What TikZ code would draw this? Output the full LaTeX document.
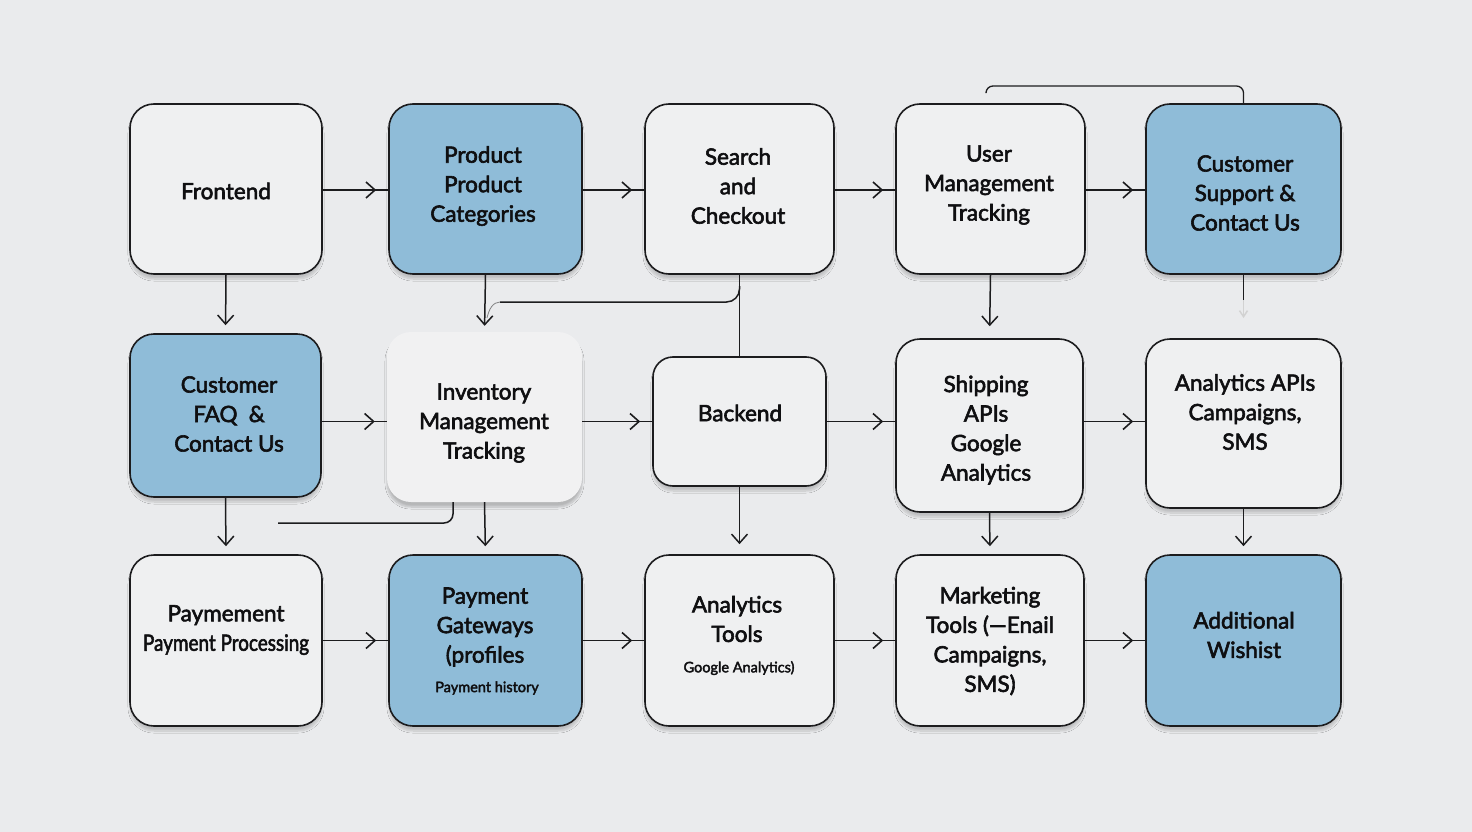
\documentclass[tikz,border=0pt]{standalone}
\usepackage{fontspec}
\setmainfont{Lato}[FakeBold=2.6]
\usetikzlibrary{arrows.meta,decorations.markings,shadows.blur}
\definecolor{bgc}{RGB}{234,235,237}
\definecolor{boxw}{RGB}{239,240,241}
\definecolor{boxi}{RGB}{241,241,242}
\definecolor{boxb}{RGB}{143,188,216}
\definecolor{linec}{RGB}{28,28,30}
\definecolor{txtc}{RGB}{15,15,17}
\begin{document}
\begin{tikzpicture}[x=1pt,y=-1pt,
  box/.style={draw=linec, line width=1.6pt, rounded corners=24pt, fill=boxw, inner sep=0pt,
    blur shadow={shadow xshift=0pt, shadow yshift=-5pt, shadow blur steps=10, shadow opacity=18}},
  bluebox/.style={box, fill=boxb},
  softbox/.style={draw=none, rounded corners=24pt, fill=boxi, inner sep=0pt,
    blur shadow={shadow xshift=0pt, shadow yshift=-5pt, shadow blur steps=10, shadow opacity=22}},
  txt/.style={align=center, font=\fontsize{22.5}{29.5}\selectfont, text=txtc, inner sep=0pt},
  smalltxt/.style={align=center, font=\fontsize{14.5}{17}\selectfont, text=txtc, inner sep=0pt},
  conn/.style={draw=linec, line width=1.5pt},
  harrow/.style={conn, postaction={decorate},
    decoration={markings, mark=at position -12pt with {\arrow[line width=1.6pt]{Straight Barb[length=9pt,width=16pt]}}}},
  varrow/.style={conn, -{Straight Barb[length=9pt,width=16pt]}, shorten >=#1},
  varrow/.default=8pt,
]
\useasboundingbox (0,0) rectangle (1472,832);
\fill[bgc] (0,0) rectangle (1472,832);

% ---- boxes row 1
\node[box, minimum width=192pt, minimum height=170pt] (fe) at (226,189) {};
\node[bluebox, minimum width=193pt, minimum height=170pt] (prod) at (485.5,189) {};
\node[box, minimum width=189pt, minimum height=170pt] (search) at (739.5,189) {};
\node[box, minimum width=189pt, minimum height=170pt] (user) at (990.5,189) {};
\node[bluebox, minimum width=195pt, minimum height=170pt] (cs) at (1243.5,189) {};
% ---- row 2
\node[bluebox, minimum width=191pt, minimum height=163pt] (faq) at (225.5,415.5) {};
\node[softbox, minimum width=195pt, minimum height=170pt] (inv) at (484.5,417) {};
\node[box, minimum width=173pt, minimum height=129pt, rounded corners=20pt] (back) at (739.5,421.5) {};
\node[box, minimum width=187pt, minimum height=173pt] (ship) at (989.5,425.5) {};
\node[box, minimum width=195pt, minimum height=169pt] (aapi) at (1243.5,423.5) {};
% ---- row 3
\node[box, minimum width=192pt, minimum height=171pt] (pay) at (226,640.5) {};
\node[bluebox, minimum width=193pt, minimum height=171pt] (gw) at (485.5,640.5) {};
\node[box, minimum width=189pt, minimum height=171pt] (tools) at (739.5,640.5) {};
\node[box, minimum width=188pt, minimum height=171pt] (mkt) at (990,640.5) {};
\node[bluebox, minimum width=195pt, minimum height=171pt] (wish) at (1243.5,640.5) {};

% ---- texts
\node[txt] (fe-t) at (226,191) {Frontend};
\node[txt] (prod-t) at (483,186) {Product\\Product\\Categories};
\node[txt] (search-t) at (738,186) {Search\\and\\Checkout};
\node[txt] (user-t) at (989,185) {User\\Management\\Tracking};
\node[txt] (cs-t) at (1245,193) {Customer\\Support \&\\Contact Us};
\node[txt] (faq-t) at (229,414) {Customer\\FAQ\enspace\&\\Contact Us};
\node[txt] (inv-t) at (484,423) {Inventory\\Management\\Tracking};
\node[txt] (back-t) at (740,413) {Backend};
\node[txt] (ship-t) at (986,430) {Shipping\\APIs\\Google\\Analytics};
\node[txt] (aapi-t) at (1245,412) {Analytics APIs\\Campaigns,\\SMS};
\node[txt] (pay-t) at (226,630) {Paymement\\\scalebox{0.84}[1]{Payment Processing}};
\node[txt] (gw-t) at (485,627) {Payment\\Gateways\\(profiles};
\node[smalltxt] (gw-s) at (487,688) {Payment history};
\node[txt] (tools-t) at (737,619) {Analytics\\Tools};
\node[smalltxt] (tools-s) at (739,668) {Google Analytics)};
\node[txt] (mkt-t) at (990,641) {Marketing\\Tools (---Enail\\Campaigns,\\SMS)};
\node[txt] (wish-t) at (1244,635) {Additional\\Wishist};

% ---- horizontal connectors
\draw[harrow] (fe.east |- 0,190) -- (prod.west |- 0,190);
\draw[harrow] (prod.east |- 0,190) -- (search.west |- 0,190);
\draw[harrow] (search.east |- 0,190) -- (user.west |- 0,190);
\draw[harrow] (user.east |- 0,190) -- (cs.west |- 0,190);
\draw[harrow] (faq.east |- back.west) -- (inv.west |- back.west);
\draw[harrow] (inv.east |- back.west) -- (back.west);
\draw[harrow] (back.east) -- (ship.west |- back.east);
\draw[harrow] (ship.east |- back.east) -- (aapi.west |- back.east);
\draw[harrow] (pay.east) -- (gw.west);
\draw[harrow] (gw.east) -- (tools.west);
\draw[harrow] (tools.east) -- (mkt.west);
\draw[harrow] (mkt.east) -- (wish.west);

% ---- vertical connectors
\draw[varrow] (fe.south) -- (faq.north);
\draw[varrow=6pt] (prod.south) -- (inv.north);
\draw[conn] (search.south) -- (back.north);
\draw[varrow=12pt] (user.south) -- (ship.north);
\draw[varrow] (faq.south) -- (pay.north);
\draw[varrow] (inv.south) -- (gw.north);
\draw[varrow=10pt] (back.south) -- (tools.north);
\draw[varrow] (ship.south) -- (mkt.north);
\draw[varrow] (aapi.south) -- (wish.north);

% ---- customer support downward (fading)
\coordinate (csm) at (1243.5,300);
\coordinate (cse) at (1243.5,318);
\draw[conn] (cs.south) -- (csm);
\draw[conn, draw=linec!20, -{Straight Barb[length=6pt,width=8pt]}] (csm) -- (cse);

% ---- branch from search/backend line to inventory arrow
\coordinate (brA) at (739.5,286);
\coordinate (brB) at (500,302);
\coordinate (brC) at (487,318);
\draw[conn, rounded corners=13pt] (brA) |- (brB);
\draw[draw=linec!55, line width=0.8pt] (brB) .. controls (493,302) and (489,309) .. (brC);

% ---- branch from inventory bottom to the left
\coordinate (invb) at (453,502);
\coordinate (invl) at (278,523);
\draw[conn, rounded corners=9pt] (invb) |- (invl);

% ---- top connector
\coordinate (topL) at (986,92);
\coordinate (topR) at (1243.5,86);
\draw[conn, line width=1.3pt, rounded corners=7pt] (topL) |- (topR) -- (cs.north);
\end{tikzpicture}
\end{document}
